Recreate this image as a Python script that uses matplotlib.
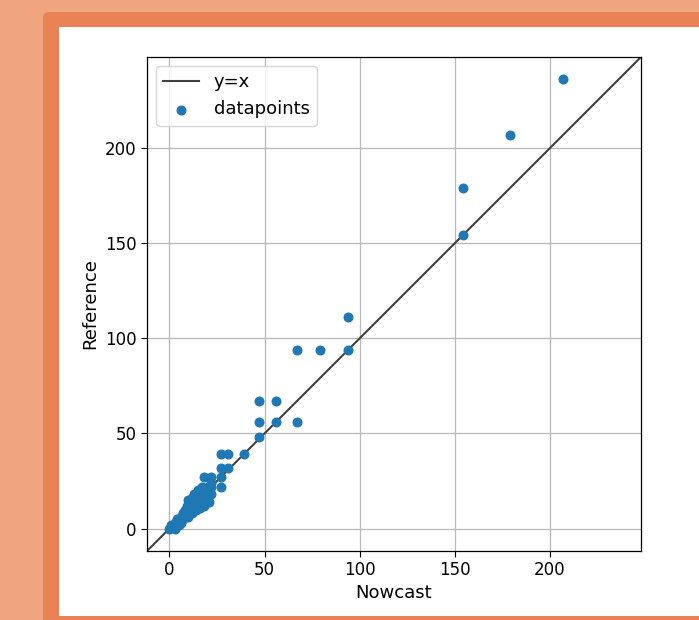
import numpy as np
import matplotlib
matplotlib.use('Agg')
import matplotlib.pyplot as plt
from matplotlib.patches import FancyBboxPatch, Rectangle

# nowcast vs reference values
nowcast = [207, 179, 154, 154, 94, 94, 79, 67, 47, 56, 47, 56, 67, 47,
           39, 31, 27, 31, 27, 27, 27, 22, 18, 22,
           0, 1, 2, 3, 3, 4, 5, 5, 6, 6, 7, 7, 8, 8, 9, 9, 10, 10, 10,
           11, 11, 12, 12, 12, 13, 13, 13, 14, 14, 15, 15, 15, 16, 16, 16,
           17, 17, 18, 18, 19, 20, 20, 21, 22, 22]
reference = [236, 207, 179, 154, 111, 94, 94, 94, 67, 67, 56, 56, 56, 48,
             39, 39, 39, 32, 32, 27, 22, 27, 27, 24,
             0, 2, 1, 0, 3, 5, 2, 4, 6, 3, 8, 5, 10, 6, 12, 8, 15, 10, 6,
             13, 9, 16, 11, 8, 18, 14, 12, 15, 10, 20, 17, 12, 18, 14, 11,
             22, 16, 20, 12, 15, 18, 22, 14, 18, 22]

W, H = 699, 620
fig = plt.figure(figsize=(W / 100, H / 100), dpi=100)
fig.patch.set_facecolor('#F0A57F')

# orange frame and white card behind the plot (display pixels, origin bottom-left)
frame = FancyBboxPatch((43, -50), 700, H - 12 + 50, boxstyle="round,pad=0,rounding_size=6",
                       transform=None, facecolor='#EA8257', edgecolor='none', zorder=-5)
card = Rectangle((59, 4), 700, H - 27 - 4, transform=None,
                 facecolor='white', edgecolor='none', zorder=-4)
fig.patches.extend([frame, card])

ax = fig.add_axes([147 / W, 1 - 551 / H, (641 - 147) / W, (551 - 57) / H])

lo = min(min(nowcast), min(reference))
hi = max(max(nowcast), max(reference))
pad = 0.05 * (hi - lo)
lims = [lo - pad, hi + pad]

ax.plot(lims, lims, color='#404040', lw=1.5, label='y=x', zorder=2)
ax.scatter(nowcast, reference, s=38, color='#1f77b4', label='datapoints', zorder=3)
ax.set_xlim(lims)
ax.set_ylim(lims)
ax.set_xticks([0, 50, 100, 150, 200])
ax.set_yticks([0, 50, 100, 150, 200])
ax.grid(True, color='#b8b8b8', lw=0.9)
ax.set_axisbelow(True)
ax.tick_params(labelsize=12, length=4)
ax.set_xlabel('Nowcast', fontsize=13, labelpad=3)
ax.set_ylabel('Reference', fontsize=13)
for s in ax.spines.values():
    s.set_linewidth(0.9)
ax.legend(loc='upper left', fontsize=13)

fig.savefig('out.png', dpi=100)
